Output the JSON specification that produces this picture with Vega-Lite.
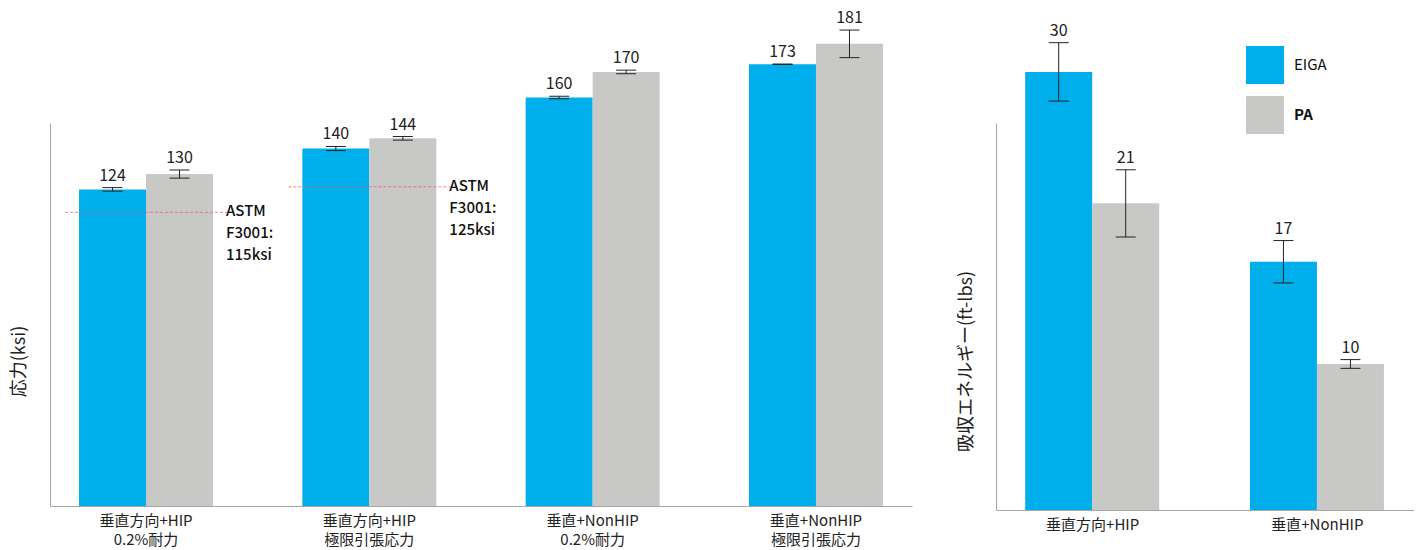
{
  "$schema": "https://vega.github.io/schema/vega-lite/v6.json",
  "background": "white",
  "padding": {"left": 10, "top": 10, "right": 0, "bottom": 0},
  "config": {
    "view": {"stroke": null},
    "font": "Noto Sans CJK JP",
    "axis": {"grid": false, "ticks": false, "domainColor": "#A6A6A6", "domainWidth": 1}
  },
  "datasets": {
    "stress": [
      {"cat": "垂直方向+HIP\n0.2%耐力", "series": "EIGA", "value": 124, "lo": 123.3, "hi": 124.7},
      {"cat": "垂直方向+HIP\n0.2%耐力", "series": "PA", "value": 130, "lo": 128.4, "hi": 131.6},
      {"cat": "垂直方向+HIP\n極限引張応力", "series": "EIGA", "value": 140, "lo": 139.2, "hi": 140.8},
      {"cat": "垂直方向+HIP\n極限引張応力", "series": "PA", "value": 144, "lo": 143.3, "hi": 144.7},
      {"cat": "垂直+NonHIP\n0.2%耐力", "series": "EIGA", "value": 160, "lo": 159.5, "hi": 160.5},
      {"cat": "垂直+NonHIP\n0.2%耐力", "series": "PA", "value": 170, "lo": 169.3, "hi": 170.7},
      {"cat": "垂直+NonHIP\n極限引張応力", "series": "EIGA", "value": 173, "lo": 172.9, "hi": 173.1},
      {"cat": "垂直+NonHIP\n極限引張応力", "series": "PA", "value": 181, "lo": 175.6, "hi": 186.4}
    ],
    "astm": [
      {"cat": "垂直方向+HIP\n0.2%耐力", "spec": 115, "note": "ASTM\nF3001:\n115ksi"},
      {"cat": "垂直方向+HIP\n極限引張応力", "spec": 125, "note": "ASTM\nF3001:\n125ksi"}
    ],
    "energy": [
      {"cat": "垂直方向+HIP", "series": "EIGA", "value": 30, "lo": 28.0, "hi": 32.0},
      {"cat": "垂直方向+HIP", "series": "PA", "value": 21, "lo": 18.7, "hi": 23.3},
      {"cat": "垂直+NonHIP", "series": "EIGA", "value": 17, "lo": 15.55, "hi": 18.45},
      {"cat": "垂直+NonHIP", "series": "PA", "value": 10, "lo": 9.7, "hi": 10.3}
    ]
  },
  "bounds": "flush",
  "spacing": 84,
  "resolve": {"legend": {"color": "independent"}},
  "hconcat": [
    {
      "width": 862,
      "height": 383,
      "layer": [
        {
          "data": {"name": "stress"},
          "mark": {"type": "bar"},
          "encoding": {
            "x": {
              "field": "cat", "type": "nominal", "sort": null, "title": null,
              "scale": {"paddingInner": 0.4, "paddingOuter": 0.13},
              "axis": {"labelExpr": "split(datum.label, '\\n')", "labelAngle": 0, "labelFontSize": 15, "labelColor": "#222222", "labelPadding": 7, "labelLineHeight": 19}
            },
            "xOffset": {"field": "series", "sort": null, "scale": {"paddingInner": 0, "paddingOuter": 0}},
            "y": {
              "field": "value", "type": "quantitative",
              "scale": {"domain": [0, 150], "nice": false, "zero": true},
              "axis": {"title": "応力(ksi)", "labels": false, "titleX": -31, "titleY": 238, "titleAngle": -90, "titleAlign": "center", "titleBaseline": "middle", "titleFontSize": 18, "titleFontWeight": "normal", "titleColor": "#222222"}
            },
            "color": {"field": "series", "type": "nominal", "scale": {"domain": ["EIGA", "PA"], "range": ["#00AEEC", "#C8C8C7"]}, "legend": null}
          }
        },
        {
          "data": {"name": "stress"},
          "mark": {"type": "rule", "color": "#222222", "strokeWidth": 1},
          "encoding": {
            "x": {"field": "cat", "type": "nominal", "sort": null},
            "xOffset": {"field": "series", "sort": null},
            "y": {"field": "lo", "type": "quantitative"},
            "y2": {"field": "hi"}
          }
        },
        {
          "data": {"name": "stress"},
          "mark": {"type": "tick", "orient": "horizontal", "size": 20, "thickness": 1, "color": "#222222", "opacity": 1},
          "encoding": {
            "x": {"field": "cat", "type": "nominal", "sort": null},
            "xOffset": {"field": "series", "sort": null},
            "y": {"field": "lo", "type": "quantitative"}
          }
        },
        {
          "data": {"name": "stress"},
          "mark": {"type": "tick", "orient": "horizontal", "size": 20, "thickness": 1, "color": "#222222", "opacity": 1},
          "encoding": {
            "x": {"field": "cat", "type": "nominal", "sort": null},
            "xOffset": {"field": "series", "sort": null},
            "y": {"field": "hi", "type": "quantitative"}
          }
        },
        {
          "data": {"name": "stress"},
          "mark": {"type": "text", "fontSize": 16, "color": "#222222", "baseline": "alphabetic", "dy": -7},
          "encoding": {
            "x": {"field": "cat", "type": "nominal", "sort": null},
            "xOffset": {"field": "series", "sort": null},
            "y": {"field": "hi", "type": "quantitative"},
            "text": {"field": "value", "type": "quantitative"}
          }
        },
        {
          "data": {"name": "astm"},
          "mark": {"type": "rule", "color": "#E8587C", "strokeWidth": 1, "strokeDash": [3, 2], "opacity": 0.75, "xOffset": -14, "x2Offset": 14},
          "encoding": {
            "x": {"field": "cat", "type": "nominal", "sort": null, "bandPosition": 0},
            "x2": {"field": "cat", "bandPosition": 1},
            "y": {"field": "spec", "type": "quantitative"}
          }
        },
        {
          "data": {"name": "astm"},
          "mark": {"type": "text", "fontSize": 15, "fontWeight": 500, "color": "#111111", "align": "left", "baseline": "top", "lineBreak": "\n", "lineHeight": 22, "dx": 13, "dy": -8},
          "encoding": {
            "x": {"field": "cat", "type": "nominal", "sort": null, "bandPosition": 1},
            "y": {"field": "spec", "type": "quantitative"},
            "text": {"field": "note"}
          }
        }
      ]
    },
    {
      "width": 418,
      "height": 387,
      "data": {"name": "energy"},
      "layer": [
        {
          "mark": {"type": "bar"},
          "encoding": {
            "x": {
              "field": "cat", "type": "nominal", "sort": null, "title": null,
              "scale": {"paddingInner": 0.4, "paddingOuter": 0.13},
              "axis": {"labelAngle": 0, "labelFontSize": 15, "labelColor": "#222222", "labelPadding": 7}
            },
            "xOffset": {"field": "series", "sort": null, "scale": {"paddingInner": 0, "paddingOuter": 0}},
            "y": {
              "field": "value", "type": "quantitative",
              "scale": {"domain": [0, 26.5], "nice": false, "zero": true},
              "axis": {"title": "吸収エネルギー(ft-lbs)", "labels": false, "titleX": -30, "titleY": 238, "titleAngle": -90, "titleAlign": "center", "titleBaseline": "middle", "titleFontSize": 18, "titleFontWeight": "normal", "titleColor": "#222222"}
            },
            "color": {
              "field": "series", "type": "nominal",
              "scale": {"domain": ["EIGA", "PA"], "range": ["#00AEEC", "#C8C8C7"]},
              "legend": {
                "orient": "none", "legendX": 250, "legendY": -77, "title": null, "padding": 0,
                "symbolType": "square", "symbolSize": 1444, "symbolStrokeWidth": 0, "symbolOpacity": 1,
                "labelFontSize": 15, "labelColor": "#111111", "labelOffset": 10, "rowPadding": 12,
                "labelFontWeight": {"expr": "datum.label == 'PA' ? 'bold' : 'normal'"}
              }
            }
          }
        },
        {
          "mark": {"type": "rule", "color": "#222222", "strokeWidth": 1},
          "encoding": {
            "x": {"field": "cat", "type": "nominal", "sort": null},
            "xOffset": {"field": "series", "sort": null},
            "y": {"field": "lo", "type": "quantitative"},
            "y2": {"field": "hi"}
          }
        },
        {
          "mark": {"type": "tick", "orient": "horizontal", "size": 20, "thickness": 1, "color": "#222222", "opacity": 1},
          "encoding": {
            "x": {"field": "cat", "type": "nominal", "sort": null},
            "xOffset": {"field": "series", "sort": null},
            "y": {"field": "lo", "type": "quantitative"}
          }
        },
        {
          "mark": {"type": "tick", "orient": "horizontal", "size": 20, "thickness": 1, "color": "#222222", "opacity": 1},
          "encoding": {
            "x": {"field": "cat", "type": "nominal", "sort": null},
            "xOffset": {"field": "series", "sort": null},
            "y": {"field": "hi", "type": "quantitative"}
          }
        },
        {
          "mark": {"type": "text", "fontSize": 16, "color": "#222222", "baseline": "alphabetic", "dy": -7},
          "encoding": {
            "x": {"field": "cat", "type": "nominal", "sort": null},
            "xOffset": {"field": "series", "sort": null},
            "y": {"field": "hi", "type": "quantitative"},
            "text": {"field": "value", "type": "quantitative"}
          }
        }
      ]
    }
  ]
}
